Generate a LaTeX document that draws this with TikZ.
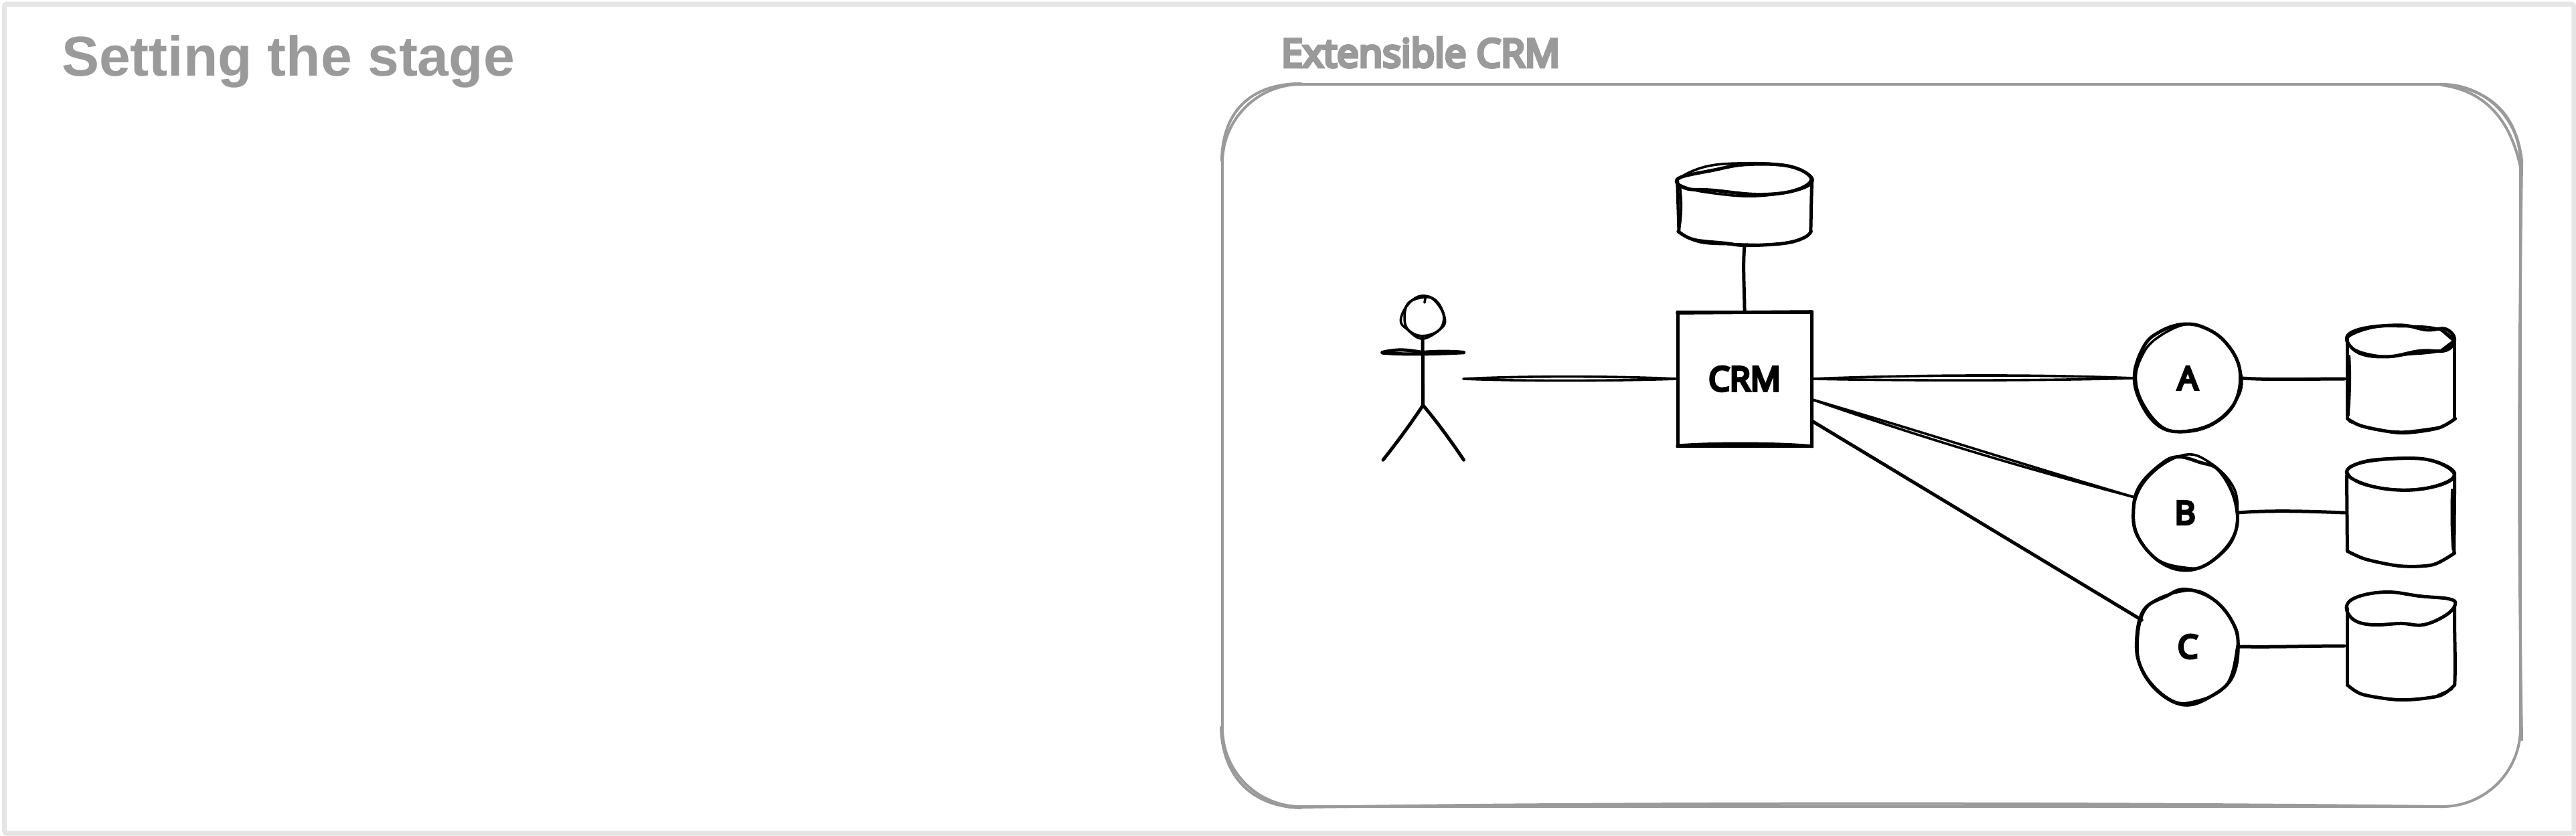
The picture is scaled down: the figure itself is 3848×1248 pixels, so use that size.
\documentclass[tikz,border=0pt]{standalone}
\usepackage{fontspec}
\usetikzlibrary{shapes.geometric}
\setmainfont{Liberation Sans}
\newfontfamily\comicfont[FakeBold=8]{Open Sans}
\definecolor{inkgrey}{HTML}{9A9A9A}
\definecolor{framegrey}{HTML}{E5E5E5}
\tikzset{
  ink/.style={draw=black,line width=5pt,line cap=round,line join=round},
  thinink/.style={draw=black,line width=3.6pt,line cap=round,line join=round},
  panel/.style={draw=inkgrey,line width=4pt,line cap=round,line join=round},
  spot/.style={draw=none,inner sep=0pt,outer sep=0pt},
  circlelabel/.style={spot,ellipse,font=\comicfont\fontsize{48}{48}\selectfont},
  dbnode/.style={spot,rectangle,minimum width=170pt,minimum height=160pt},
  zoomleft/.style={shift={(1950,200)},x=.574pt,y=-.351pt},
  zoomright/.style={shift={(3100,450)},x=.477pt,y=-.408pt},
  blob/.style={smooth cycle,tension=.65},
}
\begin{document}
\begin{tikzpicture}[x=1pt,y=-1pt]
\useasboundingbox (0,0) rectangle (3848,1248);
\fill[white] (0,0) rectangle (3848,1248);
% outer frame
\draw[framegrey,line width=7.2pt,rounded corners=4pt] (6.5,6.2) rectangle (3845,1245);
% titles
\node[spot,anchor=base west,text=inkgrey,font=\bfseries\fontsize{84}{84}\selectfont] (title) at (92,113) {Setting the stage};
\node[spot,anchor=base west,text=inkgrey,font=\comicfont\fontsize{58}{58}\selectfont] (subtitle) at (1914,100) {Extensible CRM};
% panel
\draw[panel,rounded corners=117pt] (1826,126) rectangle (3765,1205);
\draw[panel] (1943,125) .. controls (1870,125) and (1826,165) .. (1825,240);
\draw[panel] (1824,1087) .. controls (1826,1160) and (1870,1205) .. (1943,1207);
\draw[panel] (1943,1206) .. controls (2400,1199) and (3100,1199) .. (3647,1205);
\draw[panel] (3647,126) .. controls (3715,132) and (3758,165) .. (3767,240);
\draw[panel] (3647,127) .. controls (3705,135) and (3748,170) .. (3765,250);
\draw[panel] (3767,240) .. controls (3762,600) and (3762,800) .. (3767,1105);
% nodes
\node[spot,rectangle,draw=black,line width=5pt,minimum width=200pt,minimum height=200pt,font=\comicfont\fontsize{50}{50}\selectfont] (crm) at (2606,566) {CRM};
\node[circlelabel,minimum width=160pt,minimum height=162pt] (a) at (3268,565) {A};
\node[circlelabel,minimum width=156pt,minimum height=174pt] (b) at (3264,766) {B};
\node[circlelabel,minimum width=154pt,minimum height=176pt] (c) at (3268,966) {C};
\node[dbnode] (dba) at (3587,566) {};
\node[dbnode] (dbb) at (3587,766) {};
\node[dbnode] (dbc) at (3587,965) {};
\node[spot,rectangle,minimum width=200pt,minimum height=124pt] (dbt) at (2606,305) {};
\coordinate (actorhand) at (2186,566);
% connectors
\draw[thinink] (actorhand) .. controls +(100,-5) and +(-90,-4) .. (crm.west);
\draw[thinink] (actorhand) .. controls +(100,4) and +(-90,3) .. (crm.west);
\draw[thinink] (crm.east) .. controls +(150,-6) and +(-150,-6) .. (a.west);
\draw[thinink] (crm.east) .. controls +(150,3) and +(-150,4) .. (a.west);
\draw[thinink] (crm.-17) .. controls +(170,50) and +(-170,-50) .. (b.163);
\draw[thinink] (crm.-17) .. controls +(170,59) and +(-170,-45) .. (b.163);
\draw[ink] (crm.-32) -- (c.150);
\draw[ink] (dbt.south) .. controls +(-3,30) and +(0,-30) .. (crm.north);
\draw[ink] (a.east) .. controls +(50,3) and +(-50,0) .. (dba.west);
\draw[ink] (b.east) .. controls +(50,-4) and +(-50,-2) .. (dbb.west);
\draw[ink] (c.east) .. controls +(50,1) and +(-50,0) .. (dbc.west);
% actor and top database, traced
\begin{scope}[zoomleft]
\draw[thinink] plot[blob] coordinates {(300,690)(340,710)(362,780)(355,825)(305,872)(265,832)(248,795)(265,730)};
\draw[thinink] plot[blob] coordinates {(312,695)(268,720)(258,790)(270,838)(305,860)(348,835)(360,775)(338,712)};
\draw[thinink] (312,700) -- (310,718);
\draw[ink] (305,870) -- (306,1155);
\draw[ink] (200,930) .. controls (250,910) and (280,925) .. (305,930) .. controls (340,925) and (380,925) .. (412,930);
\draw[ink] (200,932) .. controls (250,940) and (330,938) .. (412,931);
\draw[ink] (306,1155) .. controls (280,1220) and (240,1310) .. (202,1388);
\draw[ink] (306,1155) .. controls (340,1220) and (380,1310) .. (412,1388);
% top database
\draw[thinink] plot[blob] coordinates {(968,195)(1040,140)(1140,125)(1250,135)(1318,185)(1290,235)(1170,265)(1050,250)(985,225)};
\draw[ink] plot[blob] coordinates {(970,190)(1060,155)(1150,130)(1260,138)(1316,190)(1275,240)(1180,258)(1060,240)(990,232)};
\draw[ink] (968,195) -- (972,415);
\draw[thinink] (975,230) .. controls (980,300) and (978,360) .. (972,410);
\draw[ink] (1318,190) -- (1315,415);
\draw[ink] plot[smooth,tension=.6] coordinates {(970,415)(1010,450)(1090,465)(1150,475)(1250,465)(1300,440)(1316,415)};
\draw[thinink] plot[smooth,tension=.6] coordinates {(972,420)(1030,462)(1130,470)(1220,470)(1290,450)};
% crm sketch strokes
\draw[ink] (968,1328) .. controls (1050,1316) and (1230,1316) .. (1318,1330);
\draw[ink] (968,762) -- (1318,757);
\end{scope}
% circles and databases, traced
\begin{scope}[zoomright]
% A
\draw[ink] plot[blob] coordinates {(330,85)(400,95)(470,150)(515,250)(500,370)(430,450)(335,478)(260,455)(205,370)(185,270)(215,165)(260,115)};
\draw[thinink] plot[blob] coordinates {(345,85)(250,140)(205,210)(190,290)(215,380)(275,462)(345,475)(440,440)(510,350)(518,260)(480,165)(420,105)};
% B
\draw[ink] plot[blob] coordinates {(320,570)(390,590)(450,620)(500,730)(500,850)(430,950)(345,985)(260,950)(195,860)(182,770)(200,680)(265,600)};
\draw[thinink] plot[blob] coordinates {(345,562)(420,590)(490,670)(508,760)(490,880)(410,965)(340,975)(250,940)(190,840)(190,720)(250,620)};
% C
\draw[ink] plot[blob] coordinates {(345,1055)(430,1090)(490,1170)(510,1260)(490,1380)(420,1450)(340,1478)(260,1430)(205,1340)(192,1240)(215,1130)(285,1080)};
\draw[thinink] plot[blob] coordinates {(335,1062)(420,1080)(500,1190)(505,1280)(470,1410)(375,1465)(300,1460)(220,1370)(195,1260)(225,1120)};
% db A
\draw[ink] plot[blob] coordinates {(850,135)(900,100)(1020,88)(1100,105)(1160,102)(1188,140)(1160,180)(1080,182)(980,203)(890,190)};
\draw[thinink] plot[blob] coordinates {(852,135)(930,97)(1020,92)(1130,100)(1185,145)(1140,182)(1040,195)(970,203)(880,180)};
\draw[thinink] (1145,105) -- (1185,145) -- (1140,185);
\draw[ink] (852,140) -- (852,430);
\draw[thinink] (858,200) .. controls (862,280) and (860,340) .. (855,420);
\draw[ink] (1188,140) -- (1188,430);
\draw[ink] plot[smooth,tension=.5] coordinates {(852,430)(900,458)(1020,482)(1135,465)(1190,430)};
\draw[thinink] plot[smooth,tension=.5] coordinates {(858,440)(930,468)(1030,478)(1150,460)};
% db B
\draw[ink] plot[blob] coordinates {(850,630)(900,590)(1040,575)(1130,588)(1188,630)(1150,670)(1040,692)(920,675)};
\draw[thinink] plot[blob] coordinates {(852,625)(880,595)(960,577)(1100,580)(1185,632)(1130,675)(1020,690)(900,670)};
\draw[ink] (850,640) -- (852,915);
\draw[ink] (1188,640) -- (1186,920);
\draw[thinink] (1180,690) .. controls (1178,760) and (1178,840) .. (1183,910);
\draw[ink] plot[smooth,tension=.5] coordinates {(852,915)(910,945)(1020,970)(1120,965)(1188,922)};
% db C
\draw[ink] plot[blob] coordinates {(850,1115)(890,1080)(980,1065)(1080,1080)(1170,1090)(1190,1110)(1160,1150)(1090,1185)(1020,1180)(930,1185)(870,1165)};
\draw[ink] (852,1125) -- (852,1405);
\draw[ink] (1188,1120) .. controls (1186,1200) and (1192,1320) .. (1188,1405);
\draw[ink] plot[smooth,tension=.5] coordinates {(852,1405)(900,1440)(1020,1460)(1140,1445)(1188,1405)};
\draw[thinink] (1135,1443) -- (1180,1420);
\end{scope}
\end{tikzpicture}
\end{document}
